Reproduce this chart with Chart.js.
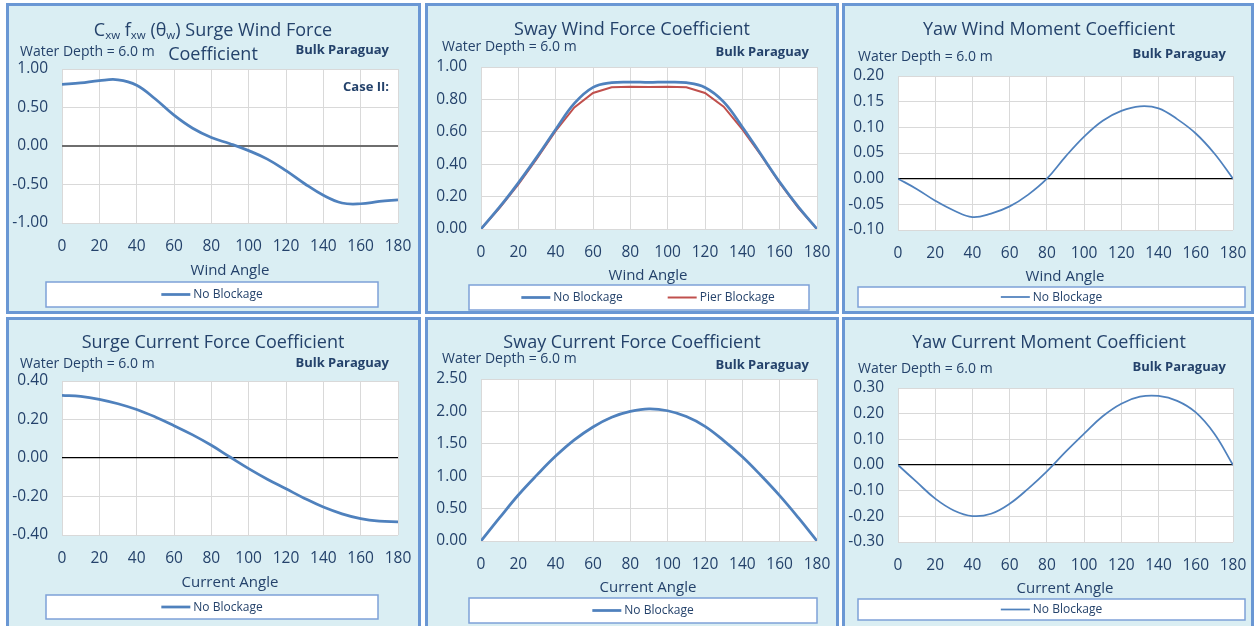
<!DOCTYPE html>
<html>
<head>
<meta charset="utf-8">
<title>Bulk Paraguay – Wind and Current Coefficients</title>
<script src="https://cdn.jsdelivr.net/npm/chart.js@4.4.1/dist/chart.umd.min.js"></script>
<style>
  html, body { margin: 0; padding: 0; background: #ffffff; width: 1255px; height: 626px; overflow: hidden; }
  .panel { position: absolute; box-sizing: border-box; border: 3px solid #6a97d4; background: #daeef3; }
  .panel canvas { display: block; }
</style>
</head>
<body>
<div class="panel" style="left:6px;top:3px;width:415px;height:311px"><canvas id="c1" width="409" height="305"></canvas></div>
<div class="panel" style="left:425px;top:3px;width:414px;height:311px"><canvas id="c2" width="408" height="305"></canvas></div>
<div class="panel" style="left:842px;top:3px;width:412px;height:311px"><canvas id="c3" width="406" height="305"></canvas></div>
<div class="panel" style="left:6px;top:317px;width:415px;height:312px"><canvas id="c4" width="409" height="306"></canvas></div>
<div class="panel" style="left:425px;top:317px;width:414px;height:312px"><canvas id="c5" width="408" height="306"></canvas></div>
<div class="panel" style="left:842px;top:317px;width:412px;height:312px"><canvas id="c6" width="406" height="306"></canvas></div>

<script>
// Heading angles (degrees), shared by every panel
const angles = [0, 10, 20, 30, 40, 50, 60, 70, 80, 90, 100, 110, 120, 130, 140, 150, 160, 170, 180];

// Wind coefficients
const surgeWindNoBlockage = [0.80, 0.82, 0.85, 0.86, 0.79, 0.61, 0.40, 0.23, 0.11, 0.03, -0.06, -0.17, -0.32, -0.49, -0.64, -0.74, -0.75, -0.72, -0.70];
const swayWindNoBlockage  = [0.00, 0.136, 0.285, 0.445, 0.614, 0.775, 0.874, 0.903, 0.907, 0.905, 0.907, 0.903, 0.874, 0.785, 0.63, 0.46, 0.29, 0.136, 0.00];
const swayWindPierBlockage = [0.00, 0.13, 0.275, 0.435, 0.605, 0.75, 0.84, 0.875, 0.878, 0.876, 0.878, 0.875, 0.84, 0.755, 0.615, 0.455, 0.285, 0.13, 0.00];
const yawWindNoBlockage   = [0.000, -0.020, -0.043, -0.062, -0.075, -0.068, -0.054, -0.031, 0.000, 0.043, 0.082, 0.113, 0.132, 0.141, 0.137, 0.116, 0.088, 0.049, 0.000];

// Current coefficients
const surgeCurrentNoBlockage = [0.325, 0.32, 0.305, 0.282, 0.252, 0.213, 0.168, 0.12, 0.066, 0.005, -0.055, -0.11, -0.16, -0.21, -0.255, -0.29, -0.315, -0.328, -0.332];
const swayCurrentNoBlockage  = [0.00, 0.36, 0.71, 1.02, 1.31, 1.56, 1.76, 1.91, 2.00, 2.04, 2.01, 1.92, 1.77, 1.55, 1.30, 1.01, 0.70, 0.36, 0.00];
const yawCurrentNoBlockage   = [0.000, -0.066, -0.131, -0.177, -0.199, -0.19, -0.151, -0.092, -0.025, 0.051, 0.122, 0.19, 0.239, 0.266, 0.269, 0.250, 0.205, 0.122, 0.000];

// Axis ranges: [min, max, step]
const angleAxis        = [0, 180, 20];
const surgeWindAxis    = [-1, 1, 0.5];
const swayWindAxis     = [0, 1, 0.2];
const yawWindAxis      = [-0.1, 0.2, 0.05];
const surgeCurrentAxis = [-0.4, 0.4, 0.2];
const swayCurrentAxis  = [0, 2.5, 0.5];
const yawCurrentAxis   = [-0.3, 0.3, 0.1];

const FONT = '"Open Sans", "DejaVu Sans", sans-serif';
const TEXT = '#24426b';
const BLUE = '#4f81bd';
const RED = '#c0504d';
const GRID = '#d9d9d9';

const toPoints = vals => angles.map((a, i) => ({ x: a, y: vals[i] }));

// Titles, captions, axis title and boxed legend drawn on top of each chart
const panelDecor = {
  id: 'panelDecor',
  beforeDraw(chart) {
    const { ctx, chartArea: a } = chart;
    ctx.save();
    ctx.fillStyle = '#ffffff';
    ctx.fillRect(a.left, a.top, a.right - a.left, a.bottom - a.top);
    ctx.restore();
  },
  afterDraw(chart, args, o) {
    const ctx = chart.ctx;
    ctx.save();
    ctx.fillStyle = TEXT;
    ctx.textBaseline = 'middle';

    // chart title (segments allow subscripts)
    o.title.forEach((line, li) => {
      const y = o.titleY[li];
      let total = 0;
      line.forEach(seg => {
        ctx.font = (seg.sub ? '11.5px ' : '18px ') + FONT;
        seg.w = ctx.measureText(seg.t).width;
        total += seg.w;
      });
      let x = o.titleX - total / 2;
      ctx.textAlign = 'left';
      line.forEach(seg => {
        ctx.font = (seg.sub ? '11.5px ' : '18px ') + FONT;
        ctx.fillText(seg.t, x, seg.sub ? y + 5 : y);
        x += seg.w;
      });
    });

    // water depth caption
    ctx.font = '14px ' + FONT;
    ctx.textAlign = 'left';
    ctx.fillText(o.depth.text, o.depth.x, o.depth.y);

    // vessel name and case label
    ctx.font = 'bold 13px ' + FONT;
    ctx.textAlign = 'right';
    ctx.fillText(o.vessel.text, o.vessel.x, o.vessel.y);
    if (o.caseLabel) ctx.fillText(o.caseLabel.text, o.caseLabel.x, o.caseLabel.y);

    // x axis title
    ctx.font = '15px ' + FONT;
    ctx.textAlign = 'center';
    ctx.fillText(o.xTitle.text, o.xTitle.x, o.xTitle.y);

    // boxed legend
    const L = o.legend;
    ctx.fillStyle = '#ffffff';
    ctx.fillRect(L.x, L.y, L.w, L.h);
    ctx.strokeStyle = '#7ea1d8';
    ctx.lineWidth = 1.5;
    ctx.strokeRect(L.x, L.y, L.w, L.h);
    ctx.font = '12px ' + FONT;
    const items = chart.data.datasets.map(ds => ({
      label: ds.label, color: ds.borderColor, lw: ds.borderWidth,
      w: L.line + 3 + ctx.measureText(ds.label).width
    }));
    const groupW = items.reduce((s, it) => s + it.w, 0) + L.gap * (items.length - 1);
    let x = L.x + L.w / 2 - groupW / 2 + (L.shift || 0);
    const cy = L.y + L.h / 2;
    items.forEach(it => {
      ctx.strokeStyle = it.color;
      ctx.lineWidth = it.lw;
      ctx.beginPath();
      ctx.moveTo(x, cy);
      ctx.lineTo(x + L.line, cy);
      ctx.stroke();
      ctx.fillStyle = TEXT;
      ctx.textAlign = 'left';
      ctx.fillText(it.label, x + L.line + 3, cy + 0.5);
      x += it.w + L.gap;
    });
    ctx.restore();
  }
};

function makePanel(p) {
  const canvas = document.getElementById(p.id);
  const W = canvas.width, H = canvas.height;
  const yr = p.yAxis;
  const hasNegative = yr[0] < 0;
  const isZero = c => hasNegative && c.tick && Math.abs(c.tick.value) < 1e-9;
  return new Chart(canvas, {
    type: 'line',
    data: {
      datasets: p.series.map(s => ({
        label: s.label,
        data: toPoints(s.values),
        borderColor: s.color,
        backgroundColor: s.color,
        borderWidth: s.width,
        pointRadius: 0,
        tension: s.tension,
        fill: false
      }))
    },
    options: {
      responsive: false,
      animation: false,
      events: [],
      layout: { padding: { left: 0, top: p.plot.t, right: W - p.plot.r, bottom: 0 } },
      plugins: {
        legend: { display: false },
        tooltip: { enabled: false },
        title: { display: false },
        panelDecor: p.decor
      },
      scales: {
        x: {
          type: 'linear',
          min: angleAxis[0], max: angleAxis[1],
          border: { display: false },
          grid: { color: GRID, lineWidth: 1, drawTicks: false },
          ticks: { stepSize: angleAxis[2], padding: 14, color: TEXT, font: { family: FONT, size: 15.5 } },
          afterFit(s) { s.height = H - p.plot.b; s.paddingLeft = 0; s.paddingRight = 0; }
        },
        y: {
          type: 'linear',
          min: yr[0], max: yr[1],
          border: { display: false },
          grid: {
            drawTicks: false,
            color: c => isZero(c) ? p.zeroColor : GRID,
            lineWidth: c => isZero(c) ? p.zeroWidth : 1
          },
          ticks: {
            stepSize: yr[2], padding: 14, color: TEXT, font: { family: FONT, size: 15.5 },
            callback: v => (Math.abs(v) < 1e-9 ? 0 : v).toFixed(2)
          },
          afterFit(s) { s.width = p.plot.l; s.paddingTop = 0; s.paddingBottom = 0; }
        }
      }
    },
    plugins: [panelDecor]
  });
}

const plain = t => [[{ t }]];

makePanel({
  id: 'c1', yAxis: surgeWindAxis, plot: { l: 53, r: 389, t: 63, b: 217 },
  zeroColor: '#6e6e6e', zeroWidth: 2,
  series: [{ label: 'No Blockage', values: surgeWindNoBlockage, color: BLUE, width: 2.75, tension: 0.4 }],
  decor: {
    title: [[{ t: 'C' }, { t: 'xw', sub: true }, { t: ' f' }, { t: 'xw', sub: true }, { t: ' (θ' }, { t: 'w', sub: true }, { t: ') Surge Wind Force' }], [{ t: 'Coefficient' }]],
    titleX: 204, titleY: [25, 49],
    depth: { text: 'Water Depth = 6.0 m', x: 11, y: 46 },
    vessel: { text: 'Bulk Paraguay', x: 380, y: 44 },
    caseLabel: { text: 'Case II:', x: 380, y: 81 },
    xTitle: { text: 'Wind Angle', x: 221, y: 265 },
    legend: { x: 37, y: 276, w: 332, h: 25, line: 29, gap: 45 }
  }
});

makePanel({
  id: 'c2', yAxis: swayWindAxis, plot: { l: 53, r: 389, t: 61, b: 223 },
  zeroColor: '#000000', zeroWidth: 1.2,
  series: [
    { label: 'No Blockage', values: swayWindNoBlockage, color: BLUE, width: 2.75, tension: 0.4 },
    { label: 'Pier Blockage', values: swayWindPierBlockage, color: RED, width: 2, tension: 0 }
  ],
  decor: {
    title: plain('Sway Wind Force Coefficient'), titleX: 204, titleY: [24],
    depth: { text: 'Water Depth = 6.0 m', x: 14, y: 41 },
    vessel: { text: 'Bulk Paraguay', x: 381, y: 46 },
    xTitle: { text: 'Wind Angle', x: 220, y: 270 },
    legend: { x: 41, y: 279, w: 340, h: 25, line: 29, gap: 45, shift: 9 }
  }
});

makePanel({
  id: 'c3', yAxis: yawWindAxis, plot: { l: 53, r: 388, t: 70, b: 224 },
  zeroColor: '#000000', zeroWidth: 1.2,
  series: [{ label: 'No Blockage', values: yawWindNoBlockage, color: BLUE, width: 1.75, tension: 0.4 }],
  decor: {
    title: plain('Yaw Wind Moment Coefficient'), titleX: 204, titleY: [24],
    depth: { text: 'Water Depth = 6.0 m', x: 13, y: 51 },
    vessel: { text: 'Bulk Paraguay', x: 381, y: 48 },
    xTitle: { text: 'Wind Angle', x: 220, y: 271 },
    legend: { x: 13, y: 281, w: 387, h: 20, line: 29, gap: 45 }
  }
});

makePanel({
  id: 'c4', yAxis: surgeCurrentAxis, plot: { l: 53, r: 389, t: 61, b: 215 },
  zeroColor: '#000000', zeroWidth: 1.2,
  series: [{ label: 'No Blockage', values: surgeCurrentNoBlockage, color: BLUE, width: 2.75, tension: 0.4 }],
  decor: {
    title: plain('Surge Current Force Coefficient'), titleX: 204, titleY: [23],
    depth: { text: 'Water Depth = 6.0 m', x: 11, y: 44 },
    vessel: { text: 'Bulk Paraguay', x: 380, y: 43 },
    xTitle: { text: 'Current Angle', x: 221, y: 263 },
    legend: { x: 37, y: 275, w: 332, h: 24, line: 29, gap: 45 }
  }
});

makePanel({
  id: 'c5', yAxis: swayCurrentAxis, plot: { l: 53, r: 389, t: 59, b: 221 },
  zeroColor: '#000000', zeroWidth: 1.2,
  series: [{ label: 'No Blockage', values: swayCurrentNoBlockage, color: BLUE, width: 2.75, tension: 0.4 }],
  decor: {
    title: plain('Sway Current Force Coefficient'), titleX: 204, titleY: [23],
    depth: { text: 'Water Depth = 6.0 m', x: 14, y: 39 },
    vessel: { text: 'Bulk Paraguay', x: 381, y: 45 },
    xTitle: { text: 'Current Angle', x: 220, y: 268 },
    legend: { x: 41, y: 278, w: 348, h: 25, line: 29, gap: 45 }
  }
});

makePanel({
  id: 'c6', yAxis: yawCurrentAxis, plot: { l: 53, r: 388, t: 68, b: 222 },
  zeroColor: '#000000', zeroWidth: 1.2,
  series: [{ label: 'No Blockage', values: yawCurrentNoBlockage, color: BLUE, width: 1.75, tension: 0.4 }],
  decor: {
    title: plain('Yaw Current Moment Coefficient'), titleX: 204, titleY: [23],
    depth: { text: 'Water Depth = 6.0 m', x: 13, y: 49 },
    vessel: { text: 'Bulk Paraguay', x: 381, y: 47 },
    xTitle: { text: 'Current Angle', x: 220, y: 269 },
    legend: { x: 13, y: 279, w: 387, h: 21, line: 29, gap: 45 }
  }
});
</script>
</body>
</html>
